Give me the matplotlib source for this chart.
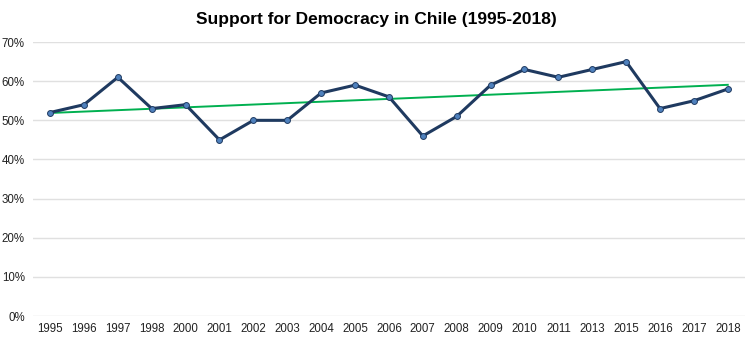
import numpy as np
import matplotlib
matplotlib.use('Agg')
import matplotlib.pyplot as plt
from matplotlib.ticker import PercentFormatter

plt.rcParams['font.family'] = ['Liberation Sans', 'DejaVu Sans']

# data
years = ['1995', '1996', '1997', '1998', '2000', '2001', '2002', '2003', '2004',
         '2005', '2006', '2007', '2008', '2009', '2010', '2011', '2013', '2015',
         '2016', '2017', '2018']
support = [52, 54, 61, 53, 54, 45, 50, 50, 57, 59, 56, 46, 51, 59, 63, 61, 63,
           65, 53, 55, 58]

x = np.arange(len(years))
y = np.array(support) / 100.0

# linear trendline (least squares)
slope, icpt = np.polyfit(x, y, 1)
trend = slope * x + icpt

fig = plt.figure(figsize=(7.53, 3.42), dpi=100)
ax = fig.add_axes([0.044, 0.076, 0.945, 0.801])

ax.plot(x, y, color='#1f3a60', linewidth=2.2, zorder=3)
ax.scatter(x, y, s=18, color='#4f81bd', edgecolor='#1f3a60', linewidth=0.7, zorder=4)
ax.plot(x, trend, color='#00b050', linewidth=1.4, zorder=2)

ax.set_xlim(-0.5, len(years) - 0.5)
ax.set_ylim(0, 0.7)
ax.set_yticks(np.arange(0, 0.71, 0.1))
ax.yaxis.set_major_formatter(PercentFormatter(1.0, decimals=0))
ax.set_xticks(x)
ax.set_xticklabels(years)

ax.grid(True, axis='y', color='#e0e0e0', linewidth=1.0)
ax.set_axisbelow(True)
for s in ax.spines.values():
    s.set_visible(False)
ax.tick_params(length=0, labelsize=8.3, colors='#222222')
ax.tick_params(axis='x', pad=5)
ax.tick_params(axis='y', pad=6)

fig.suptitle('Support for Democracy in Chile (1995-2018)', fontsize=12.5,
             fontweight='bold', y=0.965)

fig.savefig('out.png', dpi=100)
